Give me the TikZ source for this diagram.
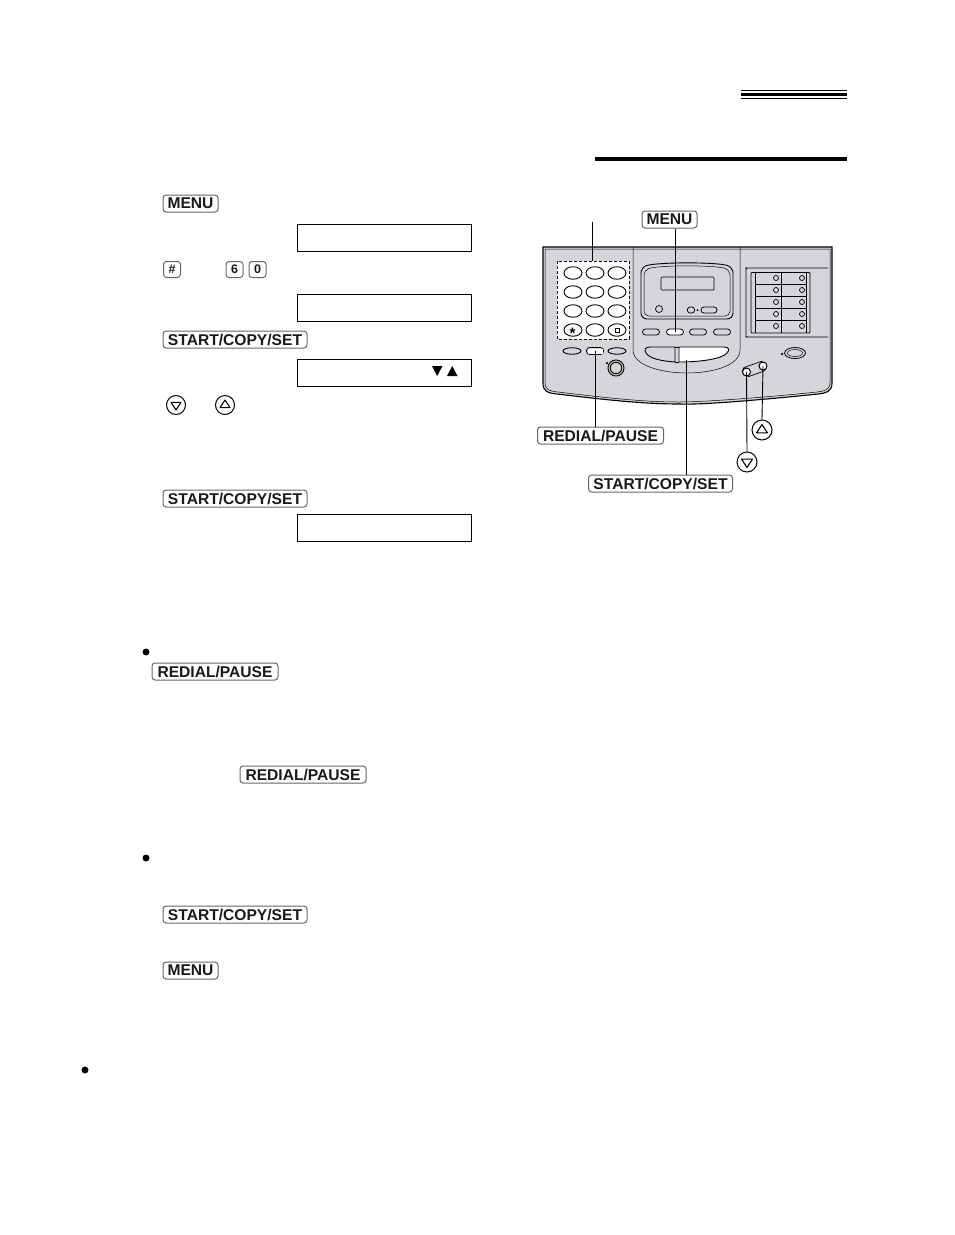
\documentclass[tikz,border=0pt]{standalone}
\usepackage{fontspec}
\setmainfont{Liberation Sans}
\usetikzlibrary{shapes.geometric,calc}
\definecolor{panel}{HTML}{D6D6DA}
\tikzset{
 x=1pt,y=-1pt,
 keycap/.style={draw=black!60,line width=1pt,rounded corners=3pt,fill=white,inner sep=0pt,minimum height=17pt,font=\fontsize{15.6}{16}\selectfont\bfseries,text=black!90},
 numkey/.style={keycap,minimum width=17pt,minimum height=16pt,font=\fontsize{12.5}{13}\selectfont\bfseries},
 lcd/.style={draw=black,line width=.8pt,minimum width=174pt,minimum height=27pt,inner sep=0pt},
 roundkey/.style={draw=black,line width=1pt,circle,inner sep=0pt,fill=white},
 leader/.style={draw=black,line width=.9pt},
 devkey/.style={draw=black,line width=.9pt,ellipse,inner sep=0pt,minimum width=18pt,minimum height=12.5pt,fill=white},
 flatkey/.style={draw=black,line width=.8pt,rounded corners=3pt,inner sep=0pt,minimum width=17pt,minimum height=6pt,fill=panel},
 devline/.style={draw=black,line width=.7pt},
 lamp/.style={draw=black,line width=.7pt,circle,inner sep=0pt,minimum size=5pt,fill=panel},
 dotmark/.style={circle,fill=black,inner sep=0pt,minimum size=2.5pt},
 bulletmark/.style={circle,fill=black,inner sep=0pt,minimum size=7pt},
}
\newcommand{\tridown}[3]{\draw[line width=1.1pt,line join=round] (#1-#3,#2-#3*.62) -- (#1+#3,#2-#3*.62) -- (#1,#2+#3*.9) -- cycle;}
\newcommand{\triup}[3]{\draw[line width=1.1pt,line join=round] (#1-#3,#2+#3*.62) -- (#1+#3,#2+#3*.62) -- (#1,#2-#3*.9) -- cycle;}
\begin{document}
\begin{tikzpicture}
\useasboundingbox (0,0) rectangle (954,1235);
\fill[white] (0,0) rectangle (954,1235);
% header rules
\fill (741,90) rectangle (847,91.2);
\fill (741,92.7) rectangle (847,96);
\fill (741,98) rectangle (847,99);
\fill (595,156.7) rectangle (847,161);
% left column
\node[keycap,minimum width=55pt] (menuA) at (190.5,203.5) {MENU};
\node[lcd] (lcdA) at (384,237.5) {};
\node[numkey] (hash) at (172,269.5) {\#};
\node[numkey] (six) at (234.5,269.5) {6};
\node[numkey] (zero) at (257.5,269.5) {0};
\node[lcd] (lcdB) at (384,307.5) {};
\node[keycap,minimum width=144pt] (startA) at (235,339.5) {START/COPY/SET};
\node[lcd] (lcdC) at (384,372.5) {};
\fill (432,366) -- (442.5,366) -- (437.2,376) -- cycle;
\fill (447,376) -- (457.5,376) -- (452.2,366) -- cycle;
\node[roundkey,minimum size=19pt] (downA) at (176,405) {};
\tridown{176}{405.5}{5}
\node[roundkey,minimum size=19pt] (upA) at (225,405) {};
\triup{225}{404.5}{5}
\node[keycap,minimum width=144pt] (startB) at (235,498.5) {START/COPY/SET};
\node[lcd] (lcdD) at (384,527.5) {};
\node[bulletmark] (bulA) at (146,652) {};
\node[keycap,minimum width=126pt] (redialA) at (215,671.5) {REDIAL/PAUSE};
\node[keycap,minimum width=126pt] (redialB) at (303,774.5) {REDIAL/PAUSE};
\node[bulletmark] (bulB) at (146,858) {};
\node[keycap,minimum width=144pt] (startC) at (235,914.5) {START/COPY/SET};
\node[keycap,minimum width=55pt] (menuB) at (190.5,970.5) {MENU};
\node[bulletmark] (bulC) at (85,1070) {};
% device body
\draw[line width=1.1pt,fill=panel] (543,247) -- (832,247) -- (832,383) .. controls (832,392) and (826,393) .. (818,394) .. controls (760,400) and (700,405) .. (680,404) .. controls (640,404) and (600,399) .. (557,394) .. controls (547,393) and (543,391) .. (543,383) -- cycle;
\draw[line width=.5pt] (545,249) -- (830,249) -- (830,382) .. controls (830,390) and (825,391) .. (817,392) .. controls (760,398) and (700,402) .. (680,402) .. controls (640,402) and (600,397) .. (558,392) .. controls (548,391) and (545,389) .. (545,382) -- cycle;
\draw[devline,line width=.5pt] (633,247) -- (633,350) .. controls (633,365) and (660,373) .. (687,373) .. controls (714,373) and (740,365) .. (740,350) -- (740,247);
% keypad
\fill[white] (557,261) rectangle (629,339);
\draw[line width=.9pt,dash pattern=on 3pt off 2pt] (557,261) rectangle (629,339);
\coordinate (padTop) at (592,261);
\coordinate (padLabel) at (592,222);
\foreach \y/\r in {273/a,292/b,311/c,330/d}{
 \foreach \x/\c in {573/a,595/b,617/c}{
  \node[devkey] (k\r\c) at (\x,\y) {};
 }
}
\node[font=\fontsize{15}{15}\selectfont\bfseries,inner sep=0pt] (star) at (572.5,333) {*};
\draw[line width=.9pt] (615,328) rectangle (619,332);
% lower row
\node[devkey,minimum height=6.5pt,fill=panel] (lowA) at (572,351) {};
\node[flatkey,minimum height=7pt] (redialKey) at (595,351) {};
\node[fill=white,inner sep=0pt,minimum width=15pt,minimum height=5pt] at (595,351) {};
\node[devkey,minimum height=6.5pt,fill=panel] (lowC) at (617,351) {};
\node[roundkey,minimum size=16pt,fill=panel] (dial) at (616,368) {};
\node[roundkey,minimum size=11.5pt,fill=panel] at (616,368) {};
\node[dotmark] at (607,363) {};
% display
\draw[line width=.9pt,rounded corners=6pt] (641,267) .. controls (660,262) and (715,262) .. (733,267) -- (733,319) -- (641,319) -- cycle;
\draw[line width=.5pt,rounded corners=5pt] (644,270) .. controls (660,265) and (715,265) .. (730,270) -- (730,316) -- (644,316) -- cycle;
\draw[line width=.7pt,rounded corners=1pt] (661,277) rectangle (714,290);
\node[lamp,minimum size=7pt] (lampD) at (659,309) {};
\node[flatkey,minimum width=7.5pt] (smallA) at (691,310) {};
\node[flatkey,minimum width=16pt] (smallB) at (709,310) {};
\node[dotmark,minimum size=2pt] at (697.5,310) {};
% four keys
\node[flatkey] (fnA) at (651,332) {};
\node[flatkey,fill=white] (menuKey) at (675,332) {};
\node[flatkey] (fnC) at (698,332) {};
\node[flatkey] (fnD) at (722,332) {};
% start bar
\draw[line width=.9pt,fill=panel] (675,347) -- (650,347) .. controls (645,347) and (644,350) .. (646,353) .. controls (650,359) and (662,361) .. (675,362) -- cycle;
\draw[line width=.9pt,fill=white] (679,347) -- (724,347) .. controls (729,347) and (730,350) .. (727,353) .. controls (722,359) and (700,362) .. (679,362) -- cycle;
\draw[line width=.6pt] (675,347) -- (679,347) (675,362) -- (679,362);
\coordinate (startKey) at (686,360);
% one-touch panel
\draw[line width=.8pt,rounded corners=4pt] (828,268) -- (751,268) .. controls (747,268) and (746,270) .. (746,272) -- (746,333) .. controls (746,336) and (748,337) .. (751,337) -- (828,337);
\fill[panel] (751,272) rectangle (810,333);
\draw[line width=.9pt,rounded corners=1pt] (751,272.5) rectangle (810,333);
\draw[line width=.9pt] (755,272.5) -- (755,333) (781,272.5) -- (781,333) (806,272.5) -- (806,333);
\foreach \y in {284,296,308,320}{\draw[line width=.9pt] (755,\y) -- (806,\y);}
\foreach \y/\r in {278/a,290/b,302/c,314/d,326/e}{
 \node[lamp] (ol\r) at (776,\y) {};
 \node[lamp] (or\r) at (802,\y) {};
}
% oval key
\node[draw=black,ellipse,line width=.8pt,inner sep=0pt,minimum width=21pt,minimum height=11pt,fill=panel] (ovalOut) at (795,353) {};
\node[draw=black,ellipse,line width=.5pt,inner sep=0pt,minimum width=15pt,minimum height=7pt,fill=panel] at (795,353) {};
\node[dotmark] at (782,354) {};
% jog key
\draw[line width=.7pt,fill=panel] (744,367.5) -- (761,361.5) .. controls (766,361) and (768,369) .. (764,371) -- (749,376.5) .. controls (743,377) and (741,370) .. (744,367.5) -- cycle;
\node[roundkey,minimum size=8pt] (jogDown) at (746.5,372) {};
\node[roundkey,minimum size=8pt] (jogUp) at (763,366) {};
% right labels
\node[keycap,minimum width=55pt] (menuC) at (669.5,219.5) {MENU};
\node[keycap,minimum width=126pt] (redialC) at (600.5,435.5) {REDIAL/PAUSE};
\node[keycap,minimum width=144pt] (startD) at (660.5,483.5) {START/COPY/SET};
\node[roundkey,minimum size=20pt] (upB) at (762,430) {};
\triup{762}{429.5}{5.5}
\node[roundkey,minimum size=20pt] (downB) at (747,462) {};
\tridown{747}{462.5}{5.5}
% connectors
\draw[leader] (padLabel) -- (padTop);
\draw[leader] (menuC.south -| menuKey) -- (menuKey.center);
\draw[leader] (redialC.north -| redialKey) -- (redialKey.center);
\draw[leader] (startD.north -| startKey) -- (startKey);
\draw[leader] (downB.north) -- (jogDown.center);
\draw[leader] (upB.north) -- (jogUp.center);
\end{tikzpicture}
\end{document}
